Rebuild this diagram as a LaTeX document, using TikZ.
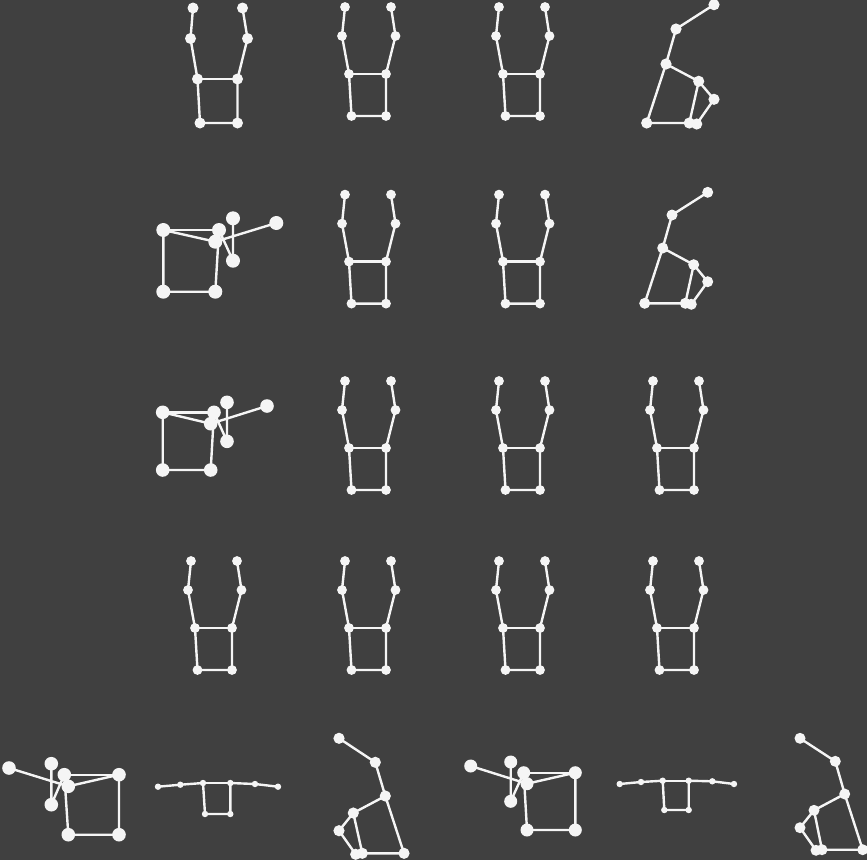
\documentclass[tikz,border=0pt]{standalone}
\definecolor{bgc}{RGB}{64,64,64}
\definecolor{inkc}{RGB}{245,245,245}
\tikzset{
  jt/.style={circle,fill=inkc,draw=none,inner sep=0pt,outer sep=0pt},
  bone/.style={draw=inkc,line width=2.4pt,line cap=round,line join=round}
}
% #1 name, #2 diameter, #3 list x/y in the order: end L, elbow L, shoulder L, hip L, hip R, shoulder R, elbow R, end R
\newcommand{\skel}[3]{%
  \foreach \px/\py [count=\ii] in {#3} {\node[jt,minimum size=#2pt] (#1-\ii) at (\px,\py) {};}
  \draw[bone] (#1-1.center) -- (#1-2.center) -- (#1-3.center) -- (#1-4.center) -- (#1-5.center) -- (#1-6.center) -- (#1-7.center) -- (#1-8.center);
  \draw[bone] (#1-3.center) -- (#1-6.center);
}
\newcommand{\stdskel}[3]{%
  \begin{scope}[shift={(#2,#3)}]
  \skel{#1}{9.8}{345/7,342/36,349/74,351.5/116,386/116,386/74,395.5/36,391/7}
  \end{scope}
}
\begin{document}
\begin{tikzpicture}[x=1pt,y=-1pt]
\fill[bgc,use as bounding box] (0,0) rectangle (867,860);
% row 1
\skel{a}{11}{193/8,190.5/38.5,197.5/79,200/123,237.5/123,237.5/79,247.5/38.5,242.5/8}
\stdskel{b}{0}{0}
\stdskel{c}{154}{0}
\skel{d}{11.2}{696.7/124,714/99.3,698.7/81.3,689.3/123,646.7/123,666/64,676/29,714/4.7}
% row 2
\skel{e}{14}{233/218.3,233/260.7,219/230,215.3/291.7,163.3/291.7,163.3/230,215.3/241.7,276.3/223}
\stdskel{f}{0}{187.6}
\stdskel{g}{154}{187.6}
\skel{h}{11}{691.3/304.3,707.7/281.7,693.7/264.7,685.3/303.3,644.7/303.3,662.7/248,672/215,707.7/192.3}
% row 3
\skel{i}{13.6}{227/402.3,227/441.3,214/412.3,210.7/470,162.7/470,162.7/412.3,210.7/423.7,267/406}
\stdskel{j}{0}{374}
\stdskel{k}{154}{374}
\stdskel{l}{308}{374}
% row 4
\stdskel{m}{-154}{554}
\stdskel{n}{0}{554}
\stdskel{o}{154}{554}
\stdskel{p}{308}{554}
% row 5
\skel{q}{13.6}{51.3/763.7,51.3/804.7,64.3/774.7,68.3/834.7,119/834.7,119/774.7,68.3/786.3,9/768}
\skel{r}{6.4}{158/786.7,180.3/784.7,203/783,205/814,230.3/814,230.3/783,255/784,278/786.7}
\skel{s}{11.2}{355.7/854.3,339/830.7,353.3/813,362.3/853.3,404/853.3,385.3/796,375.3/762.3,339/738.3}
\skel{t}{13}{510.7/762,510.7/801.3,523.7/772.7,527/830,575.3/830,575.3/772.7,527/783.7,470.7/766}
\skel{u}{6.4}{619.7/784,641/782,662.7/780.7,664.3/810,688.7/810,688.7/780.7,712.3/781.3,734/784}
\skel{v}{11}{816/850.3,800/827.7,814/810.3,822/849.7,862.7/849.7,844.7/794,835.3/761.3,800/738.3}
\end{tikzpicture}
\end{document}
